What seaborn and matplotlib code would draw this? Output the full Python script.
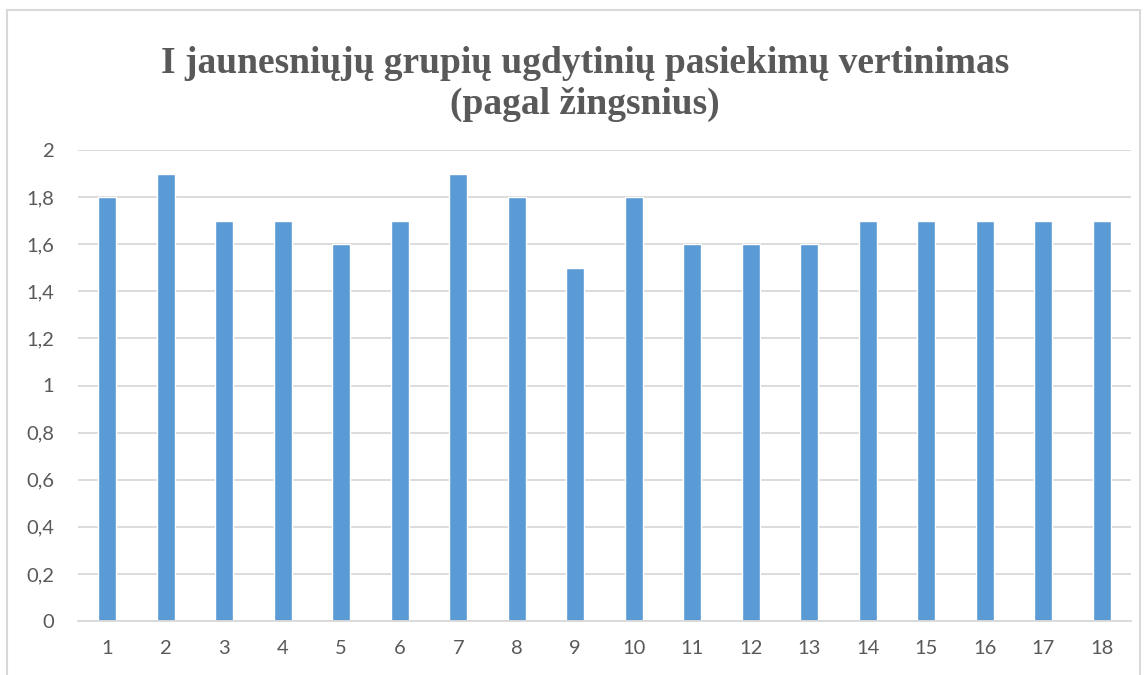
import matplotlib
matplotlib.use("Agg")
import matplotlib.pyplot as plt
import seaborn as sns
import pandas as pd
from matplotlib.patches import Rectangle
from matplotlib.ticker import FuncFormatter

steps = [str(i) for i in range(1, 19)]
scores = [1.8, 1.9, 1.7, 1.7, 1.6, 1.7, 1.9, 1.8, 1.5, 1.8,
          1.6, 1.6, 1.6, 1.7, 1.7, 1.7, 1.7, 1.7]
y_ticks = [0, 0.2, 0.4, 0.6, 0.8, 1.0, 1.2, 1.4, 1.6, 1.8, 2.0]
title = "I jaunesniųjų grupių ugdytinių pasiekimų vertinimas\n(pagal žingsnius)"

sns.set_theme(style="white")
plt.rcParams["font.family"] = ["Lato", "DejaVu Sans"]

text_gray = "#595959"
grid_gray = "#d9d9d9"

df = pd.DataFrame({"step": steps, "score": scores})

fig = plt.figure(figsize=(11.47, 6.75), dpi=100)
fig.patches.append(Rectangle((7 / 1147, -0.05), 1133 / 1147, 1 - 10 / 675 + 0.05,
                             transform=fig.transFigure, fill=False,
                             edgecolor=grid_gray, linewidth=1.5))
ax = fig.add_axes([78 / 1147, 1 - 621 / 675, (1131 - 78) / 1147, (621 - 150) / 675])

sns.barplot(data=df, x="step", y="score", color="#5B9BD5", width=0.31,
            saturation=1, ax=ax, zorder=3)

ax.set_ylim(0, 2)
ax.set_xlim(-0.5, len(steps) - 0.5)
ax.set_yticks(y_ticks)
ax.yaxis.set_major_formatter(FuncFormatter(lambda v, _: f"{v:g}".replace(".", ",")))
ax.grid(axis="y", color=grid_gray, linewidth=1.3, zorder=0)
for s in ["top", "right", "left"]:
    ax.spines[s].set_visible(False)
ax.spines["bottom"].set_color(grid_gray)
ax.spines["bottom"].set_linewidth(1.3)
ax.spines["bottom"].set_zorder(4)
ax.tick_params(axis="both", length=0, labelsize=14.5, labelcolor=text_gray)
ax.tick_params(axis="x", pad=14)
ax.tick_params(axis="y", pad=17)
ax.set_xlabel("")
ax.set_ylabel("")

fig.text(585 / 1147, 1 - 84 / 675, title, ha="center", va="center",
         fontsize=27, fontweight="bold", color=text_gray,
         family=["Liberation Serif", "DejaVu Serif"], linespacing=1.25)

fig.savefig("out.png", dpi=100, facecolor="white")
